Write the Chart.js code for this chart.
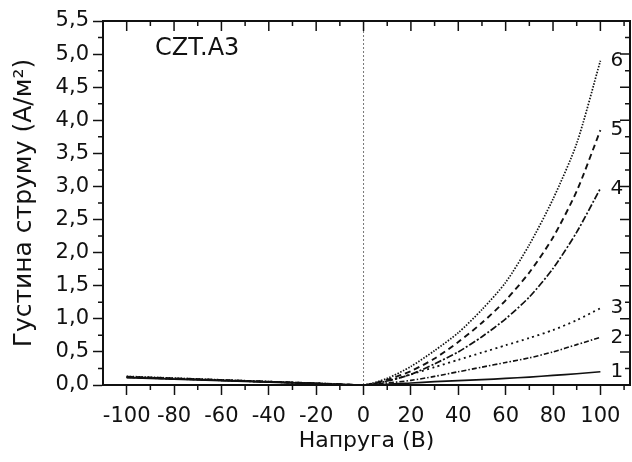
<!DOCTYPE html>
<html>
<head>
<meta charset="utf-8">
<script src="https://cdn.jsdelivr.net/npm/chart.js@4.4.1/dist/chart.umd.min.js"></script>
<style>
  html, body { margin: 0; padding: 0; background: #fff; }
</style>
</head>
<body>
<canvas id="ivChart" width="632" height="462"></canvas>
<script>
// voltage points (V) and current density (A/m^2) for curves 1..6
const voltage = [-100, -80, -60, -40, -20, 0, 10, 20, 30, 40, 50, 60, 70, 80, 90, 100];
const curve1 = [0.110, 0.088, 0.066, 0.044, 0.022, 0, 0.010, 0.030, 0.050, 0.065, 0.080, 0.100, 0.120, 0.145, 0.170, 0.20];
const curve2 = [0.115, 0.092, 0.069, 0.046, 0.023, 0, 0.030, 0.070, 0.130, 0.200, 0.270, 0.340, 0.410, 0.500, 0.610, 0.72];
const curve3 = [0.120, 0.096, 0.072, 0.048, 0.024, 0, 0.060, 0.160, 0.270, 0.380, 0.490, 0.600, 0.710, 0.830, 0.980, 1.16];
const curve4 = [0.120, 0.096, 0.072, 0.048, 0.024, 0, 0.060, 0.160, 0.320, 0.500, 0.730, 1.000, 1.330, 1.760, 2.310, 2.97];
const curve5 = [0.125, 0.100, 0.075, 0.050, 0.025, 0, 0.080, 0.210, 0.400, 0.650, 0.940, 1.280, 1.700, 2.230, 2.930, 3.85];
const curve6 = [0.130, 0.104, 0.078, 0.052, 0.026, 0, 0.100, 0.280, 0.520, 0.790, 1.140, 1.550, 2.120, 2.810, 3.650, 4.90];
const curveNames = ['1', '2', '3', '4', '5', '6'];

const xTicks = [-100, -80, -60, -40, -20, 0, 20, 40, 60, 80, 100];
const xMinor = [-90, -70, -50, -30, -10, 10, 30, 50, 70, 90, 110];
const yTicks = [0, 0.5, 1, 1.5, 2, 2.5, 3, 3.5, 4, 4.5, 5, 5.5];
const yMinor = [0.25, 0.75, 1.25, 1.75, 2.25, 2.75, 3.25, 3.75, 4.25, 4.75, 5.25];
const zeroLineY = [0, 5.5];

const FONT = "'DejaVu Sans', 'Liberation Sans', Arial, sans-serif";
const INK = '#111';

function pts(ys) {
    return voltage.map((v, i) => ({ x: v, y: ys[i] }));
}

const styles = [
    { dash: [], width: 1.7 },               // 1 solid
    { dash: [5, 2, 1.5, 2], width: 1.6 },   // 2 dash-dot
    { dash: [2, 3.5], width: 1.8 },         // 3 dotted
    { dash: [7, 2, 2, 2], width: 1.7 },     // 4 dash-dot
    { dash: [6, 4], width: 1.9 },           // 5 dashed
    { dash: [1.5, 1.5], width: 1.7 }        // 6 fine dots
];

const series = [curve1, curve2, curve3, curve4, curve5, curve6];
const datasets = series.map((ys, i) => ({
    label: curveNames[i],
    data: pts(ys),
    borderColor: INK,
    borderWidth: styles[i].width,
    borderDash: styles[i].dash,
    pointRadius: 0,
    tension: 0.25,
    fill: false
}));

// dotted vertical line at 0 V
datasets.push({
    label: 'zero',
    data: zeroLineY.map(y => ({ x: 0, y: y })),
    borderColor: '#777',
    borderWidth: 1,
    borderDash: [2, 2],
    pointRadius: 0,
    fill: false
});

// frame: top/right inward ticks, minor ticks, curve numbers and sample name
const frameTicks = {
    id: 'frameTicks',
    afterDraw(chart) {
        const { ctx, chartArea: a, scales: { x, y } } = chart;
        ctx.save();
        ctx.strokeStyle = INK;
        ctx.lineWidth = 1.5;
        ctx.beginPath();
        xTicks.forEach(v => {
            const px = x.getPixelForValue(v);
            ctx.moveTo(px, a.top); ctx.lineTo(px, a.top + 10);
        });
        xMinor.forEach(v => {
            const px = x.getPixelForValue(v);
            ctx.moveTo(px, a.top); ctx.lineTo(px, a.top + 5);
            ctx.moveTo(px, a.bottom); ctx.lineTo(px, a.bottom + 5);
        });
        yTicks.forEach(v => {
            const py = y.getPixelForValue(v);
            ctx.moveTo(a.right, py); ctx.lineTo(a.right - 10, py);
        });
        yMinor.forEach(v => {
            const py = y.getPixelForValue(v);
            ctx.moveTo(a.right, py); ctx.lineTo(a.right - 5, py);
            ctx.moveTo(a.left, py); ctx.lineTo(a.left - 5, py);
        });
        ctx.stroke();

        ctx.lineWidth = 2;
        ctx.beginPath();
        ctx.moveTo(a.left, a.top); ctx.lineTo(a.right, a.top); ctx.lineTo(a.right, a.bottom);
        ctx.stroke();

        ctx.fillStyle = INK;
        ctx.font = '20px ' + FONT;
        ctx.textAlign = 'left';
        ctx.textBaseline = 'middle';
        for (let i = 0; i < series.length; i++) {
            const pts = chart.getDatasetMeta(i).data;
            const last = pts[pts.length - 1];
            ctx.fillText(curveNames[i], last.x + 10, last.y);
        }

        ctx.font = '24px ' + FONT;
        ctx.fillText('CZT.A3', a.left + 52, a.top + 28);
        ctx.restore();
    }
};

new Chart(document.getElementById('ivChart'), {
    type: 'line',
    data: { datasets: datasets },
    options: {
        responsive: false,
        animation: false,
        devicePixelRatio: 1,
        layout: { padding: { top: 21, right: 2, left: 0, bottom: 0 } },
        plugins: { legend: { display: false }, tooltip: { enabled: false } },
        scales: {
            x: {
                type: 'linear',
                min: -110,
                max: 112.5,
                afterBuildTicks: s => { s.ticks = xTicks.map(v => ({ value: v })); },
                afterFit: s => { s.height = 77; },
                ticks: {
                    font: { family: FONT, size: 21 },
                    color: INK,
                    padding: 9,
                    maxRotation: 0,
                    autoSkip: false,
                    callback: v => String(v)
                },
                grid: { drawOnChartArea: false, tickLength: 10, tickWidth: 1.5, tickColor: INK },
                border: { color: INK, width: 2 },
                title: {
                    display: true,
                    text: 'Напруга (В)',
                    font: { family: FONT, size: 22 },
                    color: INK,
                    padding: { top: 0, bottom: 8 }
                }
            },
            y: {
                type: 'linear',
                min: 0,
                max: 5.5,
                afterBuildTicks: s => { s.ticks = yTicks.map(v => ({ value: v })); },
                afterFit: s => { s.width = 103; },
                ticks: {
                    font: { family: FONT, size: 21 },
                    color: INK,
                    padding: 4,
                    autoSkip: false,
                    callback: v => v.toFixed(1).replace('.', ',')
                },
                grid: { drawOnChartArea: false, tickLength: 10, tickWidth: 1.5, tickColor: INK },
                border: { color: INK, width: 2 },
                title: {
                    display: true,
                    text: 'Густина струму (А/м²)',
                    font: { family: FONT, size: 25 },
                    color: INK,
                    padding: { top: 9, bottom: 0 }
                }
            }
        }
    },
    plugins: [frameTicks]
});
</script>
</body>
</html>
